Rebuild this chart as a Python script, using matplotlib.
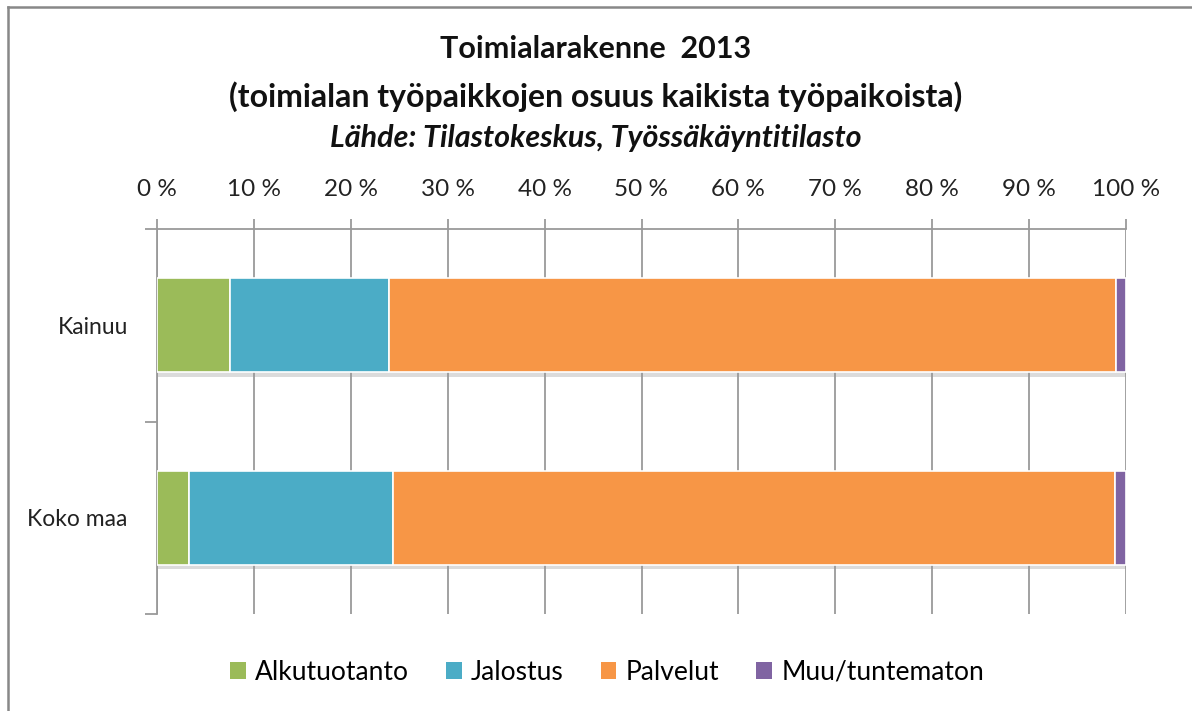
import matplotlib
matplotlib.use("Agg")
import matplotlib.pyplot as plt
from matplotlib.patches import Patch
from matplotlib.lines import Line2D
import matplotlib.patheffects as pe
import numpy as np

plt.rcParams['font.family'] = ['Lato', 'DejaVu Sans']

# Data (shares in %)
regions = ["Kainuu", "Koko maa"]
sectors = ["Alkutuotanto", "Jalostus", "Palvelut", "Muu/tuntematon"]
alkutuotanto = [7.5, 3.3]
jalostus = [16.4, 21.1]
palvelut = [75.1, 74.5]
muu = [1.0, 1.1]
colors = ["#9BBB59", "#4BACC6", "#F79646", "#8064A2"]
xticks = list(range(0, 101, 10))
xtick_labels = [f"{t} %" for t in xticks]

fig = plt.figure(figsize=(11.92, 7.11), dpi=100)
ax = fig.add_axes([157/1192, 1-614/711, (1126-157)/1192, (614-229)/711])

grid_col = "#9a9a9a"
y = np.arange(len(regions))
left = np.zeros(len(regions))
for vals, c in zip([alkutuotanto, jalostus, palvelut, muu], colors):
    ax.barh(y, vals, left=left, height=0.49, color=c, edgecolor="white",
            linewidth=1.2, zorder=3,
            path_effects=[pe.SimplePatchShadow(offset=(0, -3), shadow_rgbFace="#999999", alpha=0.35), pe.Normal()])
    left += np.array(vals)

ax.set_xlim(0, 100)
ax.set_ylim(1.5, -0.5)
ax.xaxis.tick_top()
ax.set_xticks(xticks)
ax.set_xticklabels(xtick_labels, fontsize=17.5, color="#222222")
ax.tick_params(axis="x", direction="out", length=7, width=1.3, color=grid_col, pad=14)
ax.grid(axis="x", color=grid_col, linewidth=1.3, zorder=0)

# category boundaries as major ticks, labels on minor ticks
ax.set_yticks([-0.5, 0.5, 1.5])
ax.set_yticklabels([])
ax.tick_params(axis="y", which="major", direction="out", length=9, width=1.3, color=grid_col)
ax.set_yticks(y, minor=True)
ax.set_yticklabels(regions, minor=True, fontsize=16.5, color="#222222")
ax.tick_params(axis="y", which="minor", length=0, pad=21)

for s in ["right", "bottom"]:
    ax.spines[s].set_visible(False)
for s in ["left", "top"]:
    ax.spines[s].set_color(grid_col)
    ax.spines[s].set_linewidth(1.3)

# titles
fig.text(0.5, 1-49/711, "Toimialarakenne  2013", ha="center", va="center",
         fontsize=22, fontweight="bold", color="#111111")
fig.text(0.5, 1-97/711, "(toimialan työpaikkojen osuus kaikista työpaikoista)",
         ha="center", va="center", fontsize=23, fontweight="bold", color="#111111")
fig.text(0.5, 1-138/711, "Lähde: Tilastokeskus, Työssäkäyntitilasto", ha="center",
         va="center", fontsize=22, fontweight="bold", style="italic", color="#111111")

handles = [Patch(facecolor=c, edgecolor="none") for c in colors]
fig.legend(handles, sectors, loc="center", bbox_to_anchor=(607/1192, 1-672/711), ncol=4,
           frameon=False, fontsize=19, handlelength=0.6, handleheight=0.6,
           handletextpad=0.35, columnspacing=1.4)

# outer chart border (only top and left visible in the screenshot)
fig.add_artist(Line2D([8/1192, 1], [1-7/711, 1-7/711], color="#888888", linewidth=1.8))
fig.add_artist(Line2D([8/1192, 8/1192], [0, 1-7/711], color="#888888", linewidth=1.8))

fig.savefig("out.png", dpi=100, facecolor="white")
